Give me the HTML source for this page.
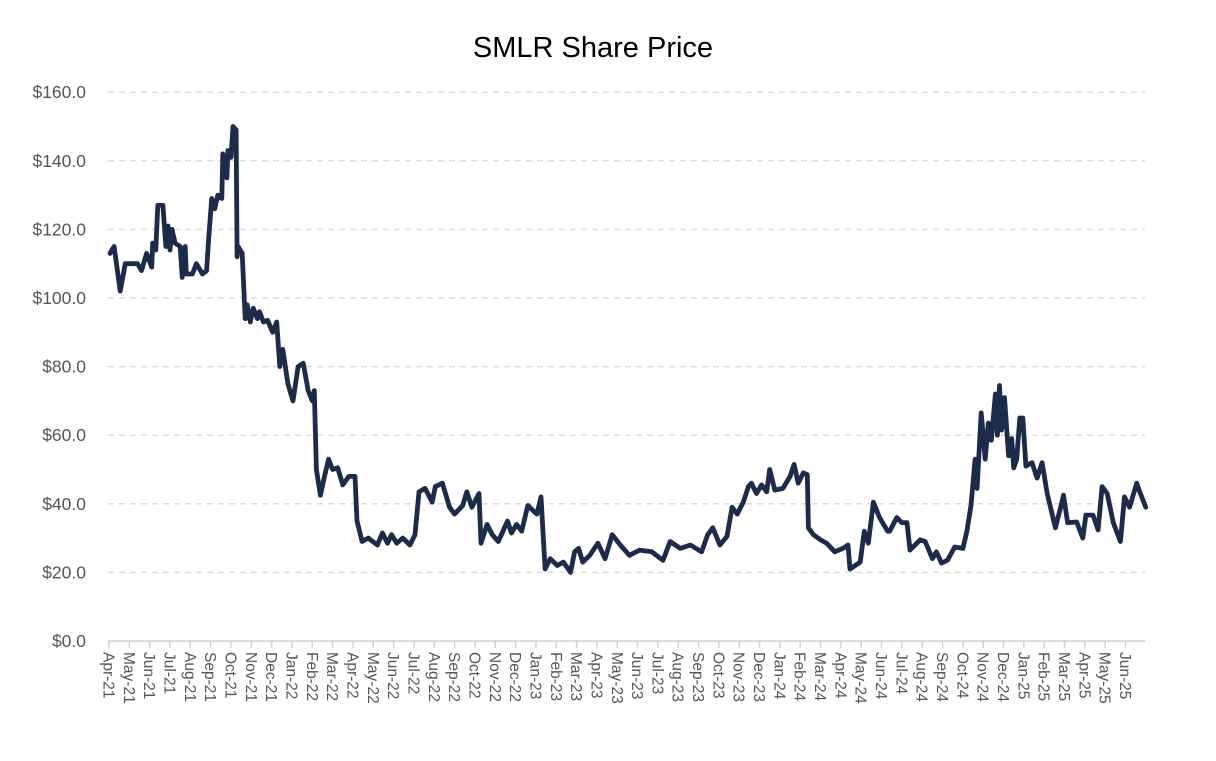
<!DOCTYPE html>
<html><head><meta charset="utf-8"><style>
body{margin:0;background:#fff;}
svg{display:block;font-family:"Liberation Sans",sans-serif;}
</style></head><body>
<svg id="chart" width="1216" height="761" viewBox="0 0 1216 761">
<text x="593" y="57" text-anchor="middle" font-size="29" fill="#000">SMLR Share Price</text>
<g id="grid"></g>
<g id="yaxis"></g>
<g id="xaxis"></g>
<g id="series"></g>
</svg>
<script>
const months=[0.05,0.25,0.55,0.8,1.4,1.6,1.85,2.1,2.15,2.3,2.4,2.65,2.8,2.9,3.0,3.1,3.25,3.5,3.6,3.75,3.8,4.1,4.3,4.6,4.8,4.9,5.05,5.2,5.35,5.55,5.6,5.8,5.85,6.0,6.1,6.25,6.3,6.35,6.55,6.7,6.8,6.95,7.1,7.3,7.4,7.6,7.8,8.05,8.25,8.4,8.55,8.8,9.05,9.3,9.55,9.8,10.0,10.1,10.2,10.4,10.6,10.8,11.0,11.25,11.5,11.8,12.1,12.2,12.45,12.75,13.2,13.45,13.7,13.9,14.15,14.45,14.8,15.05,15.25,15.55,15.9,16.05,16.4,16.75,17.0,17.4,17.6,17.85,18.2,18.3,18.6,18.85,19.15,19.6,19.8,20.05,20.3,20.6,21.05,21.25,21.45,21.7,22.05,22.35,22.7,22.9,23.1,23.3,23.65,24.05,24.4,24.75,25.15,25.6,26.1,26.7,27.25,27.6,28.1,28.6,29.15,29.45,29.7,30.05,30.4,30.65,30.9,31.2,31.45,31.6,31.85,32.1,32.35,32.5,32.75,33.15,33.5,33.7,33.9,34.15,34.35,34.4,34.65,35.0,35.3,35.7,36.1,36.35,36.45,36.95,37.15,37.35,37.6,37.9,38.3,38.4,38.75,39.0,39.25,39.4,39.9,40.15,40.5,40.7,40.95,41.25,41.6,42.0,42.2,42.4,42.6,42.7,42.9,43.1,43.25,43.4,43.6,43.7,43.8,43.9,44.05,44.25,44.4,44.5,44.65,44.8,44.95,45.1,45.4,45.65,45.9,46.15,46.55,46.85,46.95,47.15,47.6,47.9,48.05,48.4,48.65,48.85,49.1,49.4,49.75,49.95,50.2,50.55,50.7,51.0];
const prices=[113,115,102,110,110,108,113,109,116,114,127,127,115,121,114,120,116,115,106,115,107,107,110,107,108,117,129,126,130,129,142,135,143,141,150,149,112,115,113,94,98,93,97,94,96,93,93.5,90,93,80,85,75,70,80,81,73,70,73,50,42.5,48,53,50,50.5,45.5,48,48,35,29,30,28,31.5,28.5,31,28.5,30,28,31,43.5,44.5,40.5,45,46,39,37,39.5,43.5,39,43,28.5,34,31,29,35,31.5,34,32,39.5,37,42,21,24,22,23,20,26,27,23,25,28.5,24,31,28,25,26.5,26,23.5,29,27,28,26,31,33,28,30.5,39,37,40.5,45,46,43,45.5,43.5,50,44,44.5,48,51.5,46,49,48.5,33,31,29.5,28.5,26,27,28,21,23,32,28.5,40.5,36,32,32,36,34.5,34.5,26.5,29.5,29,24,26,22.7,23.6,27.4,27,32,39.5,53,44.5,66.5,53,63.5,58.5,72,60,74.5,61.5,71,54,59,50.5,53,65,65,51,52,47.5,52,43,33,40,42.5,34.5,34.7,30,36.7,36.7,32.4,45,43,34.5,29,42,39,46,43.5,39];
const yTicks=[0,20,40,60,80,100,120,140,160];
const monthNames=["Jan","Feb","Mar","Apr","May","Jun","Jul","Aug","Sep","Oct","Nov","Dec"];
const NS="http://www.w3.org/2000/svg";
const x0=109,mw=20.33,y0=641,py=3.43,xEnd=1145;
const X=m=>x0+m*mw, Y=v=>y0-v*py;
const grid=document.getElementById('grid'),ya=document.getElementById('yaxis'),xa=document.getElementById('xaxis'),ser=document.getElementById('series');
yTicks.forEach(t=>{
  if(t>0){const l=document.createElementNS(NS,'line');
  
  
  l.setAttribute('x1',108);l.setAttribute('x2',xEnd);l.setAttribute('y1',Y(t));l.setAttribute('y2',Y(t));
  l.setAttribute('stroke','#dcdcdc');l.setAttribute('stroke-width','1.5');l.setAttribute('stroke-dasharray','6,5');grid.appendChild(l);}
  const tx=document.createElementNS(NS,'text');
  
  
  tx.setAttribute('x',86);tx.setAttribute('y',Y(t)+6);tx.setAttribute('text-anchor','end');tx.setAttribute('font-size','17.5');tx.setAttribute('fill','#555');
  tx.textContent='$'+t.toFixed(1);ya.appendChild(tx);
});
const ax=document.createElementNS(NS,'line');


ax.setAttribute('x1',108);ax.setAttribute('x2',xEnd);ax.setAttribute('y1',y0);ax.setAttribute('y2',y0);ax.setAttribute('stroke','#d0d0d0');ax.setAttribute('stroke-width','1.5');xa.appendChild(ax);
for(let i=0;i<=50;i++){
  const mi=(3+i)%12, yr=21+Math.floor((3+i)/12);
  const xx=X(i);
  const tk=document.createElementNS(NS,'line');
  
  
  tk.setAttribute('x1',xx);tk.setAttribute('x2',xx);tk.setAttribute('y1',y0);tk.setAttribute('y2',y0+7);tk.setAttribute('stroke','#d0d0d0');tk.setAttribute('stroke-width','1.5');xa.appendChild(tk);
  const tx=document.createElementNS(NS,'text');
  
  
  tx.setAttribute('transform','translate('+(xx-5.5)+','+(y0+11)+') rotate(90)');
  tx.setAttribute('font-size','15.5');tx.setAttribute('fill','#555');
  tx.textContent=monthNames[mi]+'\u2011'+yr;xa.appendChild(tx);
}
const p=document.createElementNS(NS,'polyline');


p.setAttribute('points',months.map((m,i)=>X(m).toFixed(1)+','+Y(prices[i]).toFixed(1)).join(' '));
p.setAttribute('fill','none');p.setAttribute('stroke','#1c2b4a');p.setAttribute('stroke-width','4.8');p.setAttribute('stroke-linejoin','round');p.setAttribute('stroke-linecap','round');
ser.appendChild(p);
</script>
</body></html>
